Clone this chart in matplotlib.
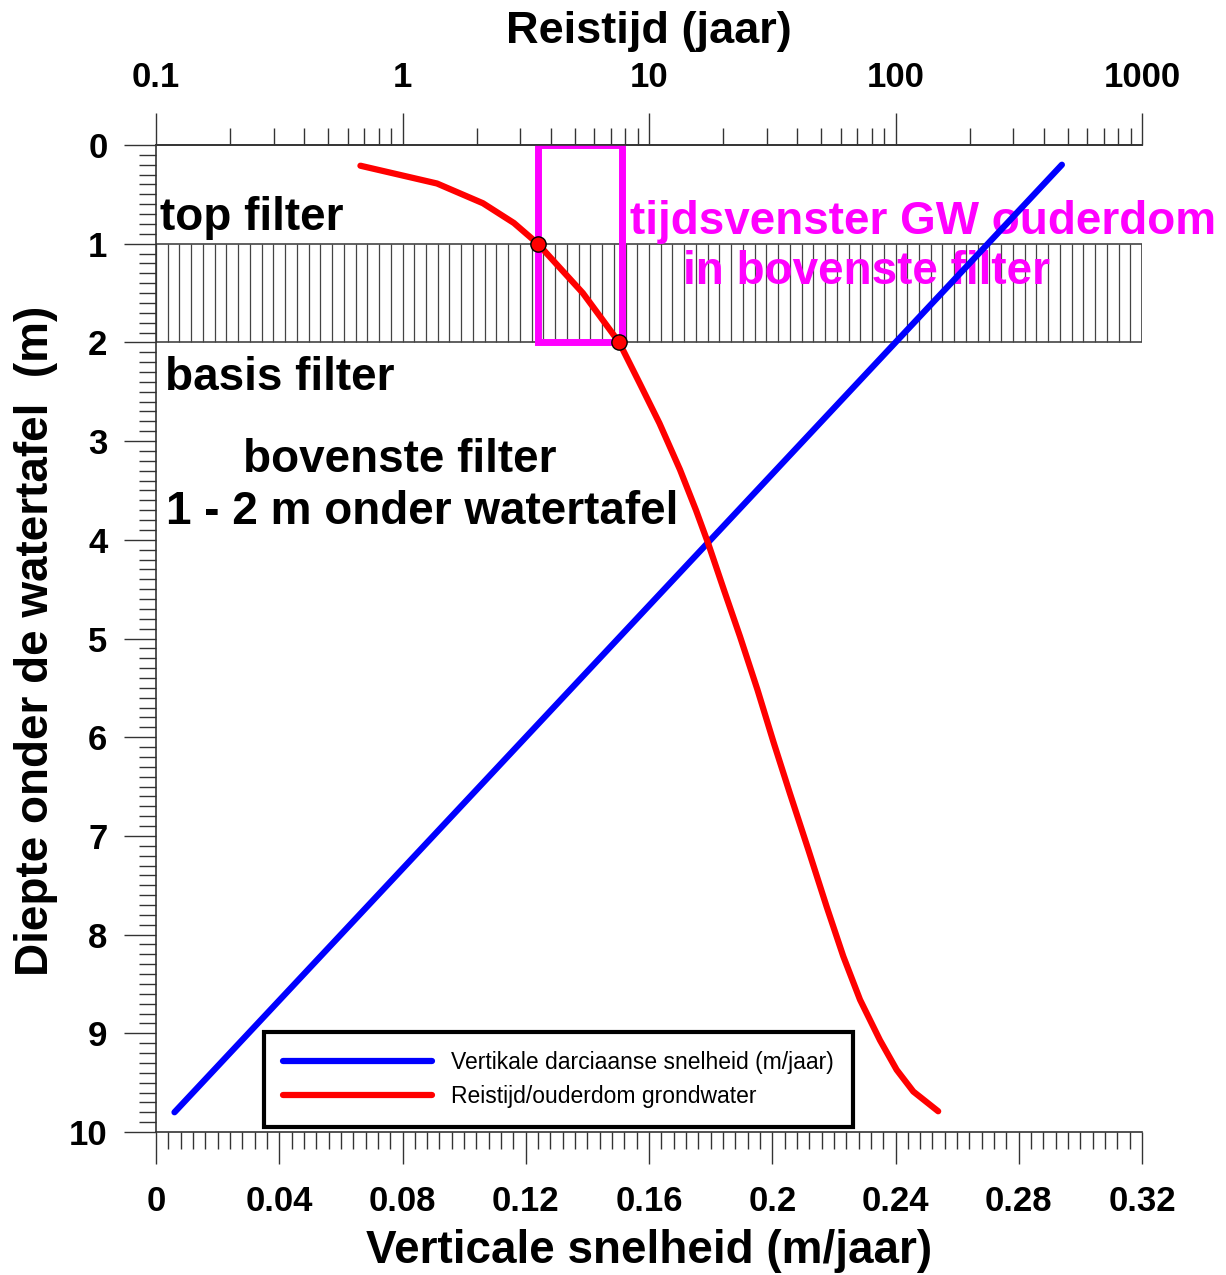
import numpy as np
import matplotlib
matplotlib.use('Agg')
import matplotlib.pyplot as plt
from matplotlib.patches import Rectangle
from matplotlib.ticker import MultipleLocator, LogLocator, NullFormatter

plt.rcParams['font.family'] = ['Liberation Sans', 'DejaVu Sans']
plt.rcParams['font.weight'] = 'bold'

# vertikale darciaanse snelheid (m/jaar) vs diepte (m)
diepte_v = [0.2, 9.8]
snelheid = [0.294, 0.006]

# reistijd / ouderdom grondwater (jaar) vs diepte (m)
diepte_t = [0.21, 0.39, 0.59, 0.79, 1.0, 1.5, 2.0, 2.42, 2.82, 3.29, 3.70, 4.04, 4.51,
            4.98, 5.52, 6.05, 6.57, 7.14, 7.72, 8.22, 8.66, 9.07, 9.37, 9.59, 9.79]
reistijd = [0.675, 1.38, 2.12, 2.83, 3.54, 5.39, 7.57, 9.19, 11.03, 13.36, 15.51, 17.40, 20.15,
            23.4, 27.55, 32.0, 37.3, 44.3, 52.6, 61.4, 71.8, 86.5, 101.1, 118.1, 149.0]

# filter (bovenste) en tijdsvenster
filter_top, filter_basis = 1.0, 2.0
venster_t = (3.54, 7.75)
punten_d = [1.0, 2.0]
punten_t = [3.54, 7.57]

fig = plt.figure(figsize=(12.26, 12.75), dpi=100)
ax = fig.add_axes([156/1226, 1 - 1132/1275, 986/1226, 987/1275])
ax2 = ax.twiny()

# onderste as: snelheid
ax.set_xlim(0, 0.32)
ax.set_ylim(10, 0)
ax.set_xticks(np.arange(0, 0.321, 0.04))
ax.set_xticklabels(['0', '0.04', '0.08', '0.12', '0.16', '0.2', '0.24', '0.28', '0.32'])
ax.xaxis.set_minor_locator(MultipleLocator(0.004))
ax.set_yticks(range(0, 11))
ax.yaxis.set_minor_locator(MultipleLocator(0.1))
ax.tick_params(which='major', direction='out', length=23, width=1, color='#333333',
               labelsize=25, pad=12)
ax.tick_params(which='minor', direction='out', length=12, width=1, color='#333333')
ax.tick_params(axis='x', which='major', pad=15)
ax.spines['right'].set_visible(False)
for s in ['left', 'bottom', 'top']:
    ax.spines[s].set_color('#333333')
    ax.spines[s].set_linewidth(1.2)

# bovenste as: reistijd (log)
ax2.set_xscale('log')
ax2.set_xlim(0.1, 1000)
ax2.set_xticks([0.1, 1, 10, 100, 1000])
ax2.set_xticklabels(['0.1', '1', '10', '100', '1000'])
ax2.xaxis.set_minor_locator(LogLocator(base=10, subs=np.arange(2, 10)))
ax2.xaxis.set_minor_formatter(NullFormatter())
ax2.tick_params(which='major', direction='out', length=23, width=1, color='#333333',
                labelsize=25, pad=14)
ax2.tick_params(which='minor', direction='out', length=12, width=1, color='#333333')
for s in ['left', 'right', 'bottom']:
    ax2.spines[s].set_visible(False)
ax2.spines['top'].set_color('#333333')
ax2.spines['top'].set_linewidth(1.2)

# labels
ax.set_xlabel('Verticale snelheid (m/jaar)', fontsize=33, fontweight='bold')
ax.xaxis.set_label_coords(0.5, -0.1205)
ax.xaxis.label.set_va('center')
ax.set_ylabel('Diepte onder de watertafel  (m)', fontsize=33, fontweight='bold')
ax.yaxis.set_label_coords(-0.122, 0.498)
ax.yaxis.label.set_va('center')
ax2.set_xlabel('Reistijd (jaar)', fontsize=32.5, fontweight='bold')
ax2.xaxis.set_label_coords(0.5, 1.1145)
ax2.xaxis.label.set_va('center')

# gearceerd filter
ax.add_patch(Rectangle((0, filter_top), 0.32, filter_basis - filter_top,
                       fill=False, edgecolor='#444444', linewidth=1.2, zorder=1))
ax.vlines(np.linspace(0, 0.32, 85), filter_top, filter_basis,
          colors='#444444', linewidth=0.9, zorder=1)

# teksten
tk = dict(fontsize=33, fontweight='bold', va='center', zorder=2)
ax.text(0.0013, 0.74, 'top filter', ha='left', **tk)
ax.text(0.0029, 2.36, 'basis filter', ha='left', **tk)
ax.text(0.0792, 3.19, 'bovenste filter', ha='center', **tk)
ax.text(0.0864, 3.72, '1 - 2 m onder watertafel', ha='center', **tk)
ax.text(0.249, 0.78, 'tijdsvenster GW ouderdom', color='#ff00ff', ha='center', clip_on=False, **tk)
ax.text(0.2306, 1.29, 'in bovenste filter', color='#ff00ff', ha='center', **tk)

# blauwe lijn
l1, = ax.plot(snelheid, diepte_v, color='#0000ff', linewidth=4.5, solid_capstyle='round', zorder=3,
              label='Vertikale darciaanse snelheid (m/jaar)')

# tijdsvenster en reistijd
ax2.add_patch(Rectangle((venster_t[0], 0), venster_t[1] - venster_t[0], filter_basis,
                        fill=False, edgecolor='#ff00ff', linewidth=5, zorder=2))
l2, = ax2.plot(reistijd, diepte_t, color='#ff0000', linewidth=4.5, solid_capstyle='round',
               solid_joinstyle='round', zorder=3, label='Reistijd/ouderdom grondwater')
ax2.plot(punten_t, punten_d, 'o', color='#ff0000', markeredgecolor='black', markersize=11,
         markeredgewidth=1, zorder=4)

leg = ax.legend([l1, l2], [l1.get_label(), l2.get_label()], loc='lower left',
                bbox_to_anchor=(0.1095, 0.005), fancybox=False, framealpha=1,
                edgecolor='black', handlelength=6.5, handletextpad=0.8, borderpad=0.85,
                labelspacing=0.45, borderaxespad=0,
                prop={'family': ['Liberation Sans'], 'weight': 'normal', 'size': 16.5})
leg.get_frame().set_linewidth(3)
leg.set_zorder(5)

fig.savefig('out.png', dpi=100)
